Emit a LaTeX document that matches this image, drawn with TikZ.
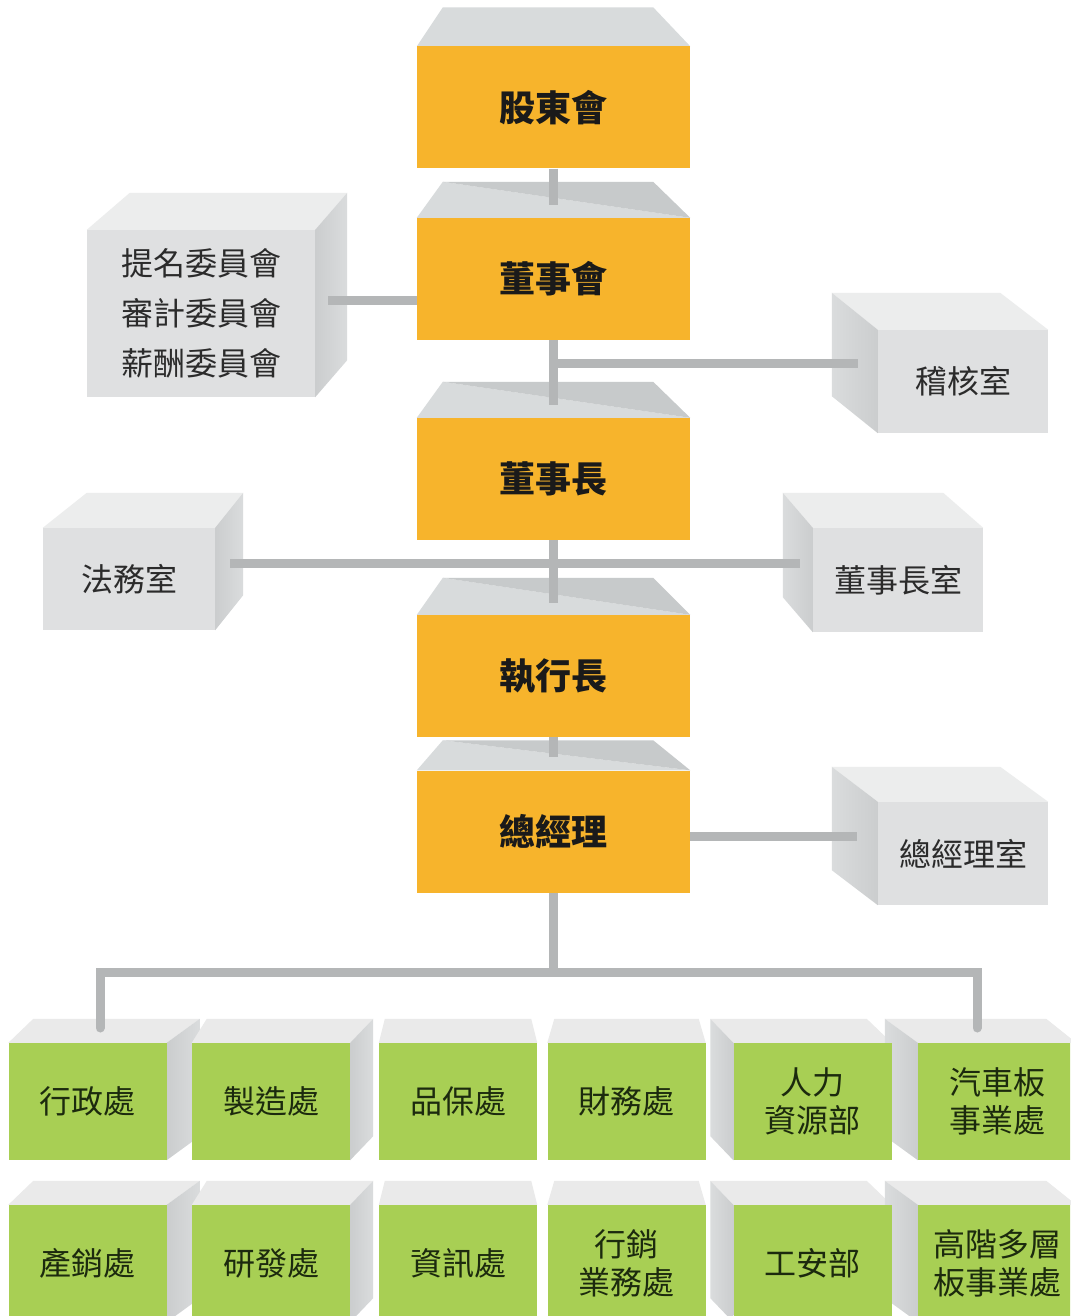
\documentclass[tikz,border=0pt]{standalone}
\usepackage{fontspec}
\newfontfamily\cjk{Noto Sans CJK TC}
\usetikzlibrary{calc}
\pgfdeclarelayer{bg}
\pgfsetlayers{bg,main}
\definecolor{orgc}{HTML}{F7B42C}
\definecolor{connc}{HTML}{B4B6B7}
\definecolor{otopL}{HTML}{D8DBDC}
\definecolor{otopD}{HTML}{C7CACB}
\definecolor{gfront}{HTML}{DFE0E1}
\definecolor{gtopc}{HTML}{ECEDED}
\definecolor{gsideA}{HTML}{CBCDCE}
\definecolor{gsideB}{HTML}{DADCDD}
\definecolor{grn}{HTML}{A8CF54}
\definecolor{ntop}{HTML}{EAEAEA}
\definecolor{txtc}{HTML}{1A1A1A}
\definecolor{gtxt}{HTML}{2B2B2B}
\definecolor{ntxt}{HTML}{1C2A0E}
% orange box top face: node, depth
\newcommand\otop[2]{%
  \fill[otopL] (#1.north west) -- ($(#1.north west)+(26,-#2)$) -- (#1.north east) -- cycle;
  \fill[otopD] ($(#1.north west)+(26,-#2)$) -- ($(#1.north east)+(-37,-#2)$) -- (#1.north east) -- cycle;}
% box with side face on the right: node, dxl, dx, dy, top colour
\newcommand\boxR[5]{%
  \fill[#5] (#1.north west) -- ($(#1.north west)+(#2,#4)$) -- ($(#1.north east)+(#3,#4)$) -- (#1.north east) -- cycle;
  \shade[left color=gsideA, right color=gsideB] (#1.north east) -- ($(#1.north east)+(#3,#4)$) -- ($(#1.south east)+(#3,#4)$) -- (#1.south east) -- cycle;}
% box with side face on the left: node, dxr, dx, dy, top colour
\newcommand\boxL[5]{%
  \fill[#5] (#1.north east) -- ($(#1.north east)+(#2,#4)$) -- ($(#1.north west)+(#3,#4)$) -- (#1.north west) -- cycle;
  \shade[left color=gsideB, right color=gsideA] (#1.north west) -- ($(#1.north west)+(#3,#4)$) -- ($(#1.south west)+(#3,#4)$) -- (#1.south west) -- cycle;}
% top face only: node, dxl, dxr, dy
\newcommand\boxT[4]{%
  \fill[ntop] (#1.north west) -- ($(#1.north west)+(#2,#4)$) -- ($(#1.north east)+(#3,#4)$) -- (#1.north east) -- cycle;}
\begin{document}
\begin{tikzpicture}[x=1pt,y=-1pt,
  conn/.style={draw=connc, line width=9pt},
  obox/.style={fill=orgc, minimum width=273pt, minimum height=122pt, inner sep=0pt,
    font=\cjk\bfseries\fontsize{36}{40}\selectfont, text=txtc},
  gbox/.style={fill=gfront, inner sep=0pt, align=center,
    font=\cjk\fontsize{32}{50}\selectfont, text=gtxt},
  nbox/.style={fill=grn, minimum width=158pt, minimum height=117pt, inner sep=0pt, align=center,
    font=\cjk\fontsize{32}{38}\selectfont, text=ntxt}]
\useasboundingbox (0,0) rectangle (1070,1316);
\clip (0,0) rectangle (1070,1316);
% main chain
\node[obox] (gd)  at (553.5,107.5) {股東會};
\node[obox] (dsh) at (553.5,279)   {董事會};
\node[obox] (dsz) at (553.5,479)   {董事長};
\node[obox] (ceo) at (553.5,676)   {執行長};
\node[obox] (gm)  at (553.5,831.5) {總經理};
% side offices
\node[gbox, minimum width=228pt, minimum height=167pt] (wy) at (201,313.5) {提名委員會\\審計委員會\\薪酬委員會};
\node[gbox, minimum width=170pt, minimum height=103pt] (jh) at (963,381.5) {稽核室};
\node[gbox, minimum width=172pt, minimum height=102pt] (fw) at (129,579) {法務室};
\node[gbox, minimum width=170pt, minimum height=104pt] (dzs) at (898,580) {董事長室};
\node[gbox, minimum width=170pt, minimum height=103pt] (gms) at (963,853.5) {總經理室};
% departments
\node[nbox] (n1)  at (87.5,1101.5)  {行政處};
\node[nbox] (n2)  at (271,1101.5)   {製造處};
\node[nbox] (n3)  at (458,1101.5)   {品保處};
\node[nbox] (n4)  at (626.5,1101.5) {財務處};
\node[nbox] (n5)  at (812.5,1101.5) {人力\\資源部};
\node[nbox] (n6)  at (997,1101.5)   {汽車板\\事業處};
\node[nbox] (n7)  at (87.5,1263.5)  {產銷處};
\node[nbox] (n8)  at (271,1263.5)   {研發處};
\node[nbox] (n9)  at (458,1263.5)   {資訊處};
\node[nbox] (n10) at (626.5,1263.5) {行銷\\業務處};
\node[nbox] (n11) at (812.5,1263.5) {工安部};
\node[nbox] (n12) at (997,1263.5)   {高階多層\\板事業處};
\begin{pgfonlayer}{bg}
  \fill[white] (0,0) rectangle (1070,1316);
  % faces
  \fill[otopL] (gd.north west) -- ($(gd.north west)+(26,-39)$) -- ($(gd.north east)+(-37,-39)$) -- (gd.north east) -- cycle;
  \otop{dsh}{36}
  \otop{dsz}{36}
  \otop{ceo}{37}
  \otop{gm}{30}
  \boxR{wy}{43}{32}{-37}{gtopc}
  \boxR{fw}{44}{28}{-35}{gtopc}
  \boxL{jh}{-48}{-46}{-37}{gtopc}
  \boxL{dzs}{-40}{-30}{-35}{gtopc}
  \boxL{gms}{-48}{-46}{-35}{gtopc}
  \boxR{n1}{25}{33}{-24}{ntop}
  \boxR{n2}{15}{23}{-24}{ntop}
  \boxT{n3}{6}{-6}{-24}
  \boxT{n4}{7}{-7}{-24}
  \boxL{n5}{-25}{-23}{-24}{ntop}
  \boxL{n6}{-30}{-33}{-24}{ntop}
  \boxR{n7}{25}{33}{-24}{ntop}
  \boxR{n8}{15}{23}{-24}{ntop}
  \boxT{n9}{6}{-6}{-24}
  \boxT{n10}{7}{-7}{-24}
  \boxL{n11}{-25}{-23}{-24}{ntop}
  \boxL{n12}{-30}{-33}{-24}{ntop}
  % connectors
  \coordinate (c1) at (553.5,205);
  \draw[conn] (gd.south) -- (c1);
  \coordinate (c2) at (553.5,405);
  \draw[conn] (dsh.south) -- (c2);
  \coordinate (j1) at (553.5,363);
  \coordinate (c3) at (858,363);
  \draw[conn] (j1) -- (c3);
  \coordinate (c4) at (328,300);
  \draw[conn] (c4) -- (c4 -| dsh.west);
  \coordinate (c5) at (553.5,603);
  \draw[conn] (dsz.south) -- (c5);
  \coordinate (c6) at (230,563);
  \coordinate (c7) at (800,563);
  \draw[conn] (c6) -- (c7);
  \coordinate (c8) at (553.5,757);
  \draw[conn] (ceo.south) -- (c8);
  \coordinate (c9) at (857,836);
  \draw[conn] (c9 -| gm.east) -- (c9);
  \coordinate (bus) at (553.5,972);
  \draw[conn] (gm.south) -- (bus);
  \coordinate (d1) at (100,1028);
  \coordinate (d2) at (977,1028);
  \draw[conn, line cap=round] (d1) -- (d1 |- bus) -- (d2 |- bus) -- (d2);
\end{pgfonlayer}
\end{tikzpicture}
\end{document}
